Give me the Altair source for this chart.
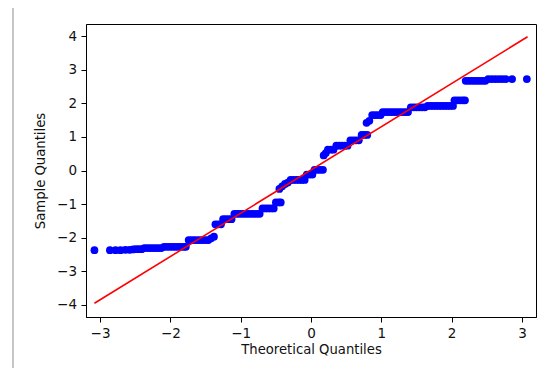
import altair as alt
import pandas as pd

# Sample quantiles (ordered) vs theoretical quantiles
theo_q = [
    -3.08, -2.86, -2.78, -2.71, -2.64, -2.58, -2.53,
    -2.49, -2.45, -2.41,
    -2.37, -2.33, -2.29, -2.25, -2.21, -2.17, -2.13,
    -2.09, -2.05, -2.01, -1.97, -1.93, -1.89, -1.85, -1.81, -1.78,
    -1.74, -1.70, -1.66, -1.62, -1.58, -1.54, -1.50, -1.46,
    -1.42, -1.38,
    -1.36, -1.32, -1.28,
    -1.25, -1.21, -1.17, -1.13,
    -1.09, -1.05, -1.01, -0.97, -0.93, -0.89, -0.85, -0.81, -0.77, -0.73,
    -0.69, -0.65, -0.61, -0.57, -0.53,
    -0.50, -0.46, -0.43,
    -0.45, -0.41, -0.37, -0.33,
    -0.29, -0.25, -0.21, -0.17, -0.13, -0.09,
    -0.06, -0.02, 0.02,
    0.05, 0.09, 0.13, 0.17,
    0.18, 0.21,
    0.24, 0.28, 0.32,
    0.36, 0.40, 0.44, 0.48, 0.52,
    0.56, 0.60, 0.64, 0.68,
    0.72, 0.76, 0.80,
    0.79, 0.83,
    0.87, 0.91, 0.95, 0.99,
    1.02, 1.06, 1.10, 1.14, 1.18, 1.22, 1.26, 1.30, 1.34, 1.38,
    1.42, 1.46, 1.50, 1.54, 1.58, 1.62,
    1.66, 1.70, 1.74, 1.78, 1.82, 1.86, 1.90, 1.94, 1.98, 2.02,
    2.04, 2.08, 2.12, 2.16, 2.19,
    2.20, 2.24, 2.28, 2.32, 2.36, 2.40, 2.44, 2.48,
    2.52, 2.57, 2.62, 2.67, 2.72, 2.77,
    2.86, 3.07,
]
sample_q = [
    -2.37, -2.37, -2.37, -2.37, -2.36, -2.36, -2.35,
    -2.34, -2.34, -2.34,
    -2.31, -2.31, -2.31, -2.31, -2.31, -2.31, -2.31,
    -2.27, -2.27, -2.27, -2.27, -2.27, -2.27, -2.27, -2.27, -2.27,
    -2.07, -2.07, -2.07, -2.07, -2.07, -2.07, -2.07, -2.07,
    -2.02, -1.97,
    -1.60, -1.60, -1.60,
    -1.45, -1.45, -1.45, -1.45,
    -1.29, -1.29, -1.29, -1.29, -1.29, -1.29, -1.29, -1.29, -1.29, -1.29,
    -1.13, -1.13, -1.13, -1.13, -1.13,
    -0.95, -0.95, -0.95,
    -0.55, -0.47, -0.40, -0.36,
    -0.28, -0.28, -0.28, -0.28, -0.28, -0.28,
    -0.12, -0.12, -0.12,
    0.02, 0.02, 0.02, 0.02,
    0.45, 0.52,
    0.62, 0.62, 0.62,
    0.74, 0.74, 0.74, 0.74, 0.74,
    0.90, 0.90, 0.90, 0.90,
    1.06, 1.06, 1.06,
    1.42, 1.48,
    1.65, 1.65, 1.65, 1.65,
    1.74, 1.74, 1.74, 1.74, 1.74, 1.74, 1.74, 1.74, 1.74, 1.74,
    1.88, 1.88, 1.88, 1.88, 1.88, 1.88,
    1.92, 1.92, 1.92, 1.92, 1.92, 1.92, 1.92, 1.92, 1.92, 1.92,
    2.09, 2.09, 2.09, 2.09, 2.09,
    2.67, 2.67, 2.67, 2.67, 2.67, 2.67, 2.67, 2.67,
    2.72, 2.72, 2.72, 2.72, 2.72, 2.72,
    2.72, 2.72,
]

# Reference line end points
line_x = [-3.08, 3.08]
line_y = [-3.95, 3.98]

x_ticks = [-3, -2, -1, 0, 1, 2, 3]
y_ticks = [-4, -3, -2, -1, 0, 1, 2, 3, 4]

pts = pd.DataFrame({"tq": theo_q, "sq": sample_q})
ln = pd.DataFrame({"tq": line_x, "sq": line_y})

FONT = "DejaVu Sans"

xscale = alt.Scale(domain=[-3.2, 3.2], nice=False, zero=False)
yscale = alt.Scale(domain=[-4.36, 4.36], nice=False, zero=False)

xaxis = alt.Axis(values=x_ticks, format="d", title="Theoretical Quantiles",
                 grid=False, titlePadding=4, labelPadding=4,
                 tickCount=7, labelOverlap=False)
yaxis = alt.Axis(values=y_ticks, format="d", title="Sample Quantiles",
                 grid=False, titlePadding=9, labelPadding=4.5,
                 tickCount=9, labelOverlap=False)

points = alt.Chart(pts).mark_circle(size=60, color="#0000ff", opacity=1).encode(
    x=alt.X("tq:Q", scale=xscale, axis=xaxis),
    y=alt.Y("sq:Q", scale=yscale, axis=yaxis),
)

line = alt.Chart(ln).mark_line(color="#ff0000", strokeWidth=1.6).encode(
    x=alt.X("tq:Q", scale=xscale, axis=xaxis),
    y=alt.Y("sq:Q", scale=yscale, axis=yaxis),
)

border = alt.Chart(pd.DataFrame({"a": [0]})).mark_rule(color="#8c8c8c", strokeWidth=1).encode(
    x=alt.value(-73), y=alt.value(-16), y2=alt.value(344)
)

chart = alt.layer(points, line, border).properties(
    width=450, height=293,
    padding={"left": 78, "top": 16, "right": 10, "bottom": 51},
    autosize=alt.AutoSizeParams(type="none"),
).configure_view(
    stroke="black", strokeWidth=1
).configure_axis(
    labelFont=FONT, titleFont=FONT, labelFontSize=13.5, titleFontSize=13.2,
    titleFontWeight="normal", labelColor="#111", titleColor="#111",
    domainColor="black", tickColor="black", tickSize=5, domainWidth=1, tickWidth=1,
)

chart.save("out.html", embed_options={"renderer": "svg", "actions": False})
